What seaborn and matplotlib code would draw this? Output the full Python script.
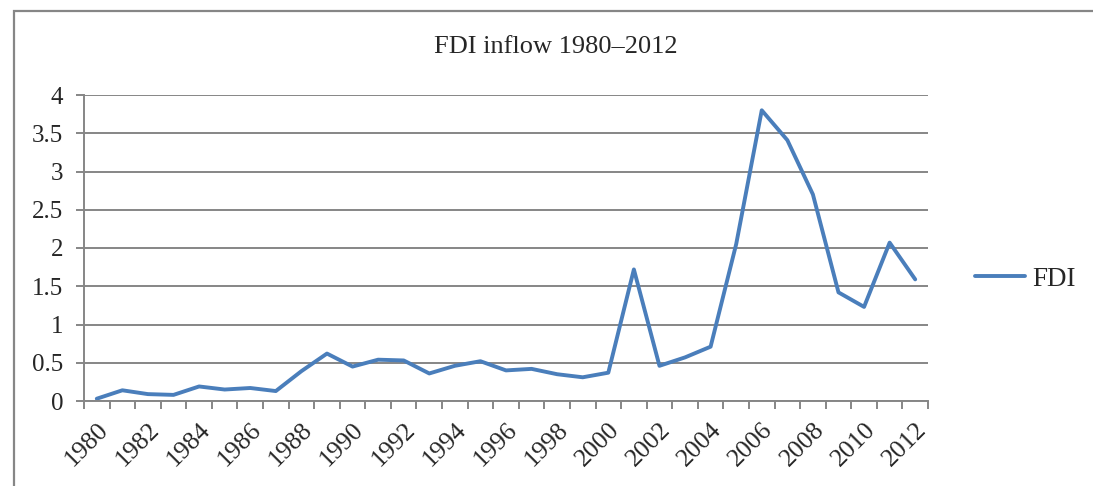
import numpy as np
import pandas as pd
import seaborn as sns
import matplotlib.pyplot as plt
from matplotlib.patches import Rectangle
from matplotlib.ticker import FuncFormatter

sns.set_style("white")
plt.rcParams['font.family'] = ['Liberation Serif', 'DejaVu Serif']

years = list(range(1980, 2013))
fdi = [0.03, 0.14, 0.09, 0.08, 0.19, 0.15, 0.17, 0.13, 0.39, 0.62,
       0.45, 0.54, 0.53, 0.36, 0.46, 0.52, 0.40, 0.42, 0.35, 0.31,
       0.37, 1.72, 0.46, 0.57, 0.71, 2.05, 3.80, 3.41, 2.70, 1.42,
       1.23, 2.07, 1.59]
df = pd.DataFrame({'Year': years, 'FDI': fdi})

grey = '#868686'
fig = plt.figure(figsize=(10.93, 4.86), dpi=100)
ax = fig.add_axes([84 / 1093, 1 - 401 / 486, (928 - 84) / 1093, (401 - 95) / 486])

sns.lineplot(data=df, x='Year', y='FDI', ax=ax, color='#4A7EBB', linewidth=2.8, label='FDI')

ax.set_xlim(1979.5, 2012.5)
ax.set_ylim(0, 4)
ax.set_yticks(np.arange(0, 4.01, 0.5))
ax.yaxis.set_major_formatter(FuncFormatter(lambda v, p: f'{v:g}'))
ax.grid(axis='y', color=grey, linewidth=1.4)
ax.set_axisbelow(True)

# category boundaries get the tick marks, labels sit on every other year
ax.set_xticks(np.arange(1979.5, 2013, 1))
ax.set_xticklabels([])
ax.set_xticks(years[::2], minor=True)
ax.set_xticklabels([str(y) for y in years[::2]], minor=True, rotation=45,
                   ha='right', va='top', rotation_mode='anchor', fontsize=18.5)
ax.tick_params(axis='x', which='major', length=6, width=1.4, color=grey, direction='out', bottom=True)
ax.tick_params(axis='x', which='minor', length=0, pad=13)
ax.tick_params(axis='y', length=6, width=1.4, color=grey, direction='out', left=True, labelsize=18, pad=9)

for s in ['top', 'right']:
    ax.spines[s].set_visible(False)
for s in ['left', 'bottom']:
    ax.spines[s].set_color(grey)
    ax.spines[s].set_linewidth(1.4)

ax.set_xlabel('')
ax.set_ylabel('')
fig.suptitle('FDI inflow 1980–2012', x=556 / 1093, y=1 - 47 / 486, va='center', fontsize=19)

ax.legend_.remove()
fig.legend(loc='center left', bbox_to_anchor=(975 / 1093, 1 - 279 / 486), frameon=False,
           fontsize=19.5, borderpad=0, borderaxespad=0, handlelength=1.85, handletextpad=0.25)

fig.add_artist(Rectangle((14 / 1093, -0.1), 2, 1.1 - 11 / 486, transform=fig.transFigure,
                         fill=False, edgecolor=grey, linewidth=1.6))

fig.savefig('out.png', dpi=100)
